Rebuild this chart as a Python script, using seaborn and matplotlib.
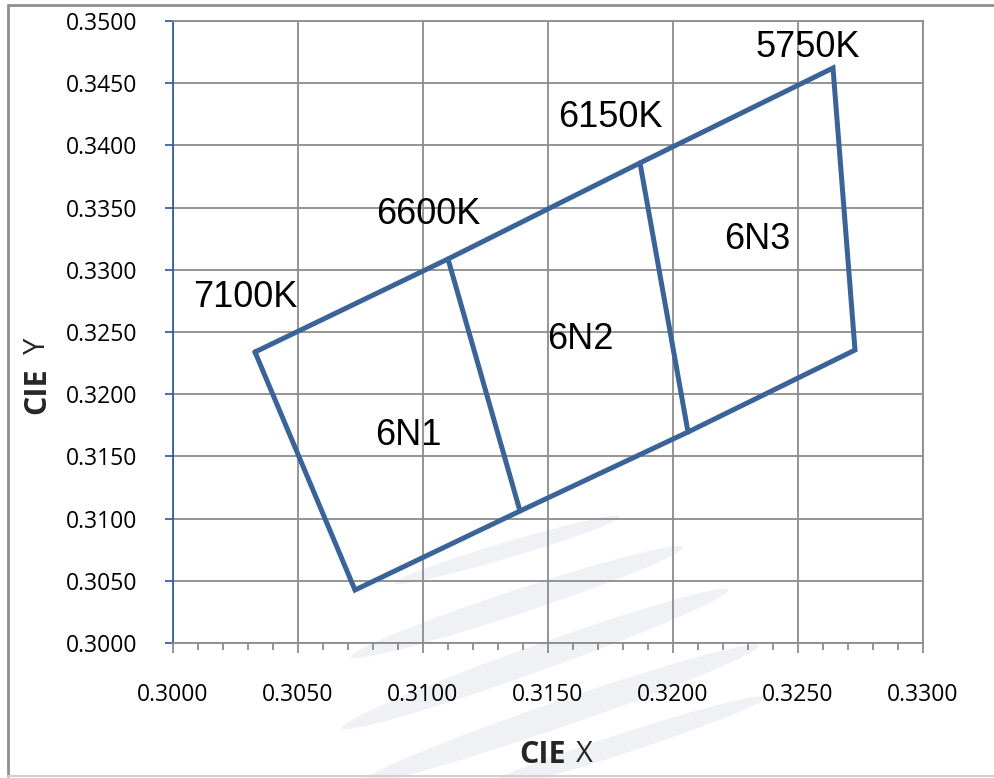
import numpy as np
import pandas as pd
import matplotlib
matplotlib.use("Agg")
import matplotlib.pyplot as plt
from matplotlib.patches import Ellipse
from matplotlib.lines import Line2D
import seaborn as sns

# ---- data ----
outline_x = [0.30328, 0.31100, 0.31868, 0.32640, 0.32728, 0.32060, 0.31388, 0.30728, 0.30328]
outline_y = [0.32339, 0.33087, 0.33859, 0.34622, 0.32355, 0.31696, 0.31061, 0.30426, 0.32339]
div6600_x = [0.31100, 0.31388]
div6600_y = [0.33087, 0.31061]
div6150_x = [0.31868, 0.32060]
div6150_y = [0.33859, 0.31696]

cct_labels = ["5750K", "6150K", "6600K", "7100K"]
cct_x = [0.32540, 0.31748, 0.31020, 0.30288]
cct_y = [0.34783, 0.34228, 0.33441, 0.32781]

bin_labels = ["6N3", "6N2", "6N1"]
bin_x = [0.32336, 0.31628, 0.30940]
bin_y = [0.33240, 0.32436, 0.31672]

xticks = [0.3000, 0.3050, 0.3100, 0.3150, 0.3200, 0.3250, 0.3300]
yticks = [0.3000, 0.3050, 0.3100, 0.3150, 0.3200, 0.3250, 0.3300, 0.3350, 0.3400, 0.3450, 0.3500]

frames = []
for name, xs, ys in [("outline", outline_x, outline_y),
                     ("d6600", div6600_x, div6600_y),
                     ("d6150", div6150_x, div6150_y)]:
    frames.append(pd.DataFrame({"x": xs, "y": ys, "seg": name, "order": range(len(xs))}))
df = pd.concat(frames, ignore_index=True)

sns.set_style("white")
plt.rcParams['font.family'] = ['Open Sans', 'DejaVu Sans']

W, H = 995, 778
fig = plt.figure(figsize=(W / 100, H / 100), dpi=100)
fig.patch.set_facecolor("white")

# faint watermark stripes (figure pixel coords, origin top-left)
stripes = [((507, 550), 235, 16, 16.5), ((517, 602), 350, 24, 18.3),
           ((535, 659), 410, 26, 19.7), ((560, 714), 420, 26, 19.0),
           ((618, 745), 310, 20, 18.0)]
for (cx, cy), L, T, ang in stripes:
    e = Ellipse((cx, H - cy), L, T, angle=ang, facecolor="#f0f1f5", edgecolor="none",
                zorder=-5, transform=None)
    fig.patches.append(e)

ax = fig.add_axes([173 / W, 1 - 643 / H, 750 / W, 622 / H])
ax.set_facecolor("none")
ax.set_zorder(1)

sns.lineplot(data=df, x="x", y="y", units="seg", estimator=None, sort=False,
             color="#3a6497", linewidth=3.6, ax=ax, legend=False, zorder=3,
             solid_joinstyle="miter")

ax.set_xlim(0.3000, 0.3300)
ax.set_ylim(0.3000, 0.3500)
ax.set_xticks(xticks)
ax.set_yticks(yticks)
ax.set_xticks(np.arange(0.3000, 0.33001, 0.001), minor=True)
ax.set_xticklabels([f"{v:.4f}" for v in xticks])
ax.set_yticklabels([f"{v:.4f}" for v in yticks])

ax.grid(True, which="major", color="#8c8c8c", linewidth=1.3, zorder=1)
ax.set_axisbelow(True)

for s in ["top", "right", "bottom"]:
    ax.spines[s].set_color("#8c8c8c")
    ax.spines[s].set_linewidth(1.3)
ax.spines["left"].set_color("#2e5597")
ax.spines["left"].set_linewidth(1.2)

ax.tick_params(axis="y", which="major", direction="out", length=6, width=1.2,
               color="#2e5597", labelsize=16.5, pad=20, left=True, labelcolor="black")
ax.tick_params(axis="x", which="major", direction="out", length=7, width=1.3,
               color="#8c8c8c", labelsize=16.5, pad=22, bottom=True, labelcolor="black")
ax.tick_params(axis="x", which="minor", direction="out", length=5, width=1.3,
               color="#8c8c8c", bottom=True)
ax.set_xlabel("")
ax.set_ylabel("")

for t, x, y in zip(cct_labels, cct_x, cct_y):
    ax.text(x, y, t, ha="center", va="center", fontsize=26,
            family=["Liberation Sans", "DejaVu Sans"], color="black", zorder=4)
for t, x, y in zip(bin_labels, bin_x, bin_y):
    ax.text(x, y, t, ha="center", va="center", fontsize=26,
            family=["Liberation Sans", "DejaVu Sans"], color="black", zorder=4)

# axis titles
fig.text(566 / W, 1 - 755 / H, "CIE", ha="right", va="center", fontsize=22, fontweight="bold")
fig.text(576 / W, 1 - 755 / H, "X", ha="left", va="center", fontsize=21)
fig.text(37 / W, 1 - 391 / H, "CIE", ha="center", va="center", fontsize=22,
         fontweight="bold", rotation=90)
fig.text(37 / W, 1 - 346 / H, "Y", ha="center", va="center", fontsize=21, rotation=90)

# outer frame
fig.lines.append(Line2D([8 / W, 8 / W], [1 - 776 / H, 1 - 5 / H], transform=fig.transFigure,
                        color="#8f8f8f", linewidth=2))
fig.lines.append(Line2D([8 / W, 1.0], [1 - 5 / H, 1 - 5 / H], transform=fig.transFigure,
                        color="#8f8f8f", linewidth=2))
fig.lines.append(Line2D([8 / W, 1.0], [1 - 776 / H, 1 - 776 / H], transform=fig.transFigure,
                        color="#d0d0d0", linewidth=1.5))

fig.savefig("out.png", dpi=100)
